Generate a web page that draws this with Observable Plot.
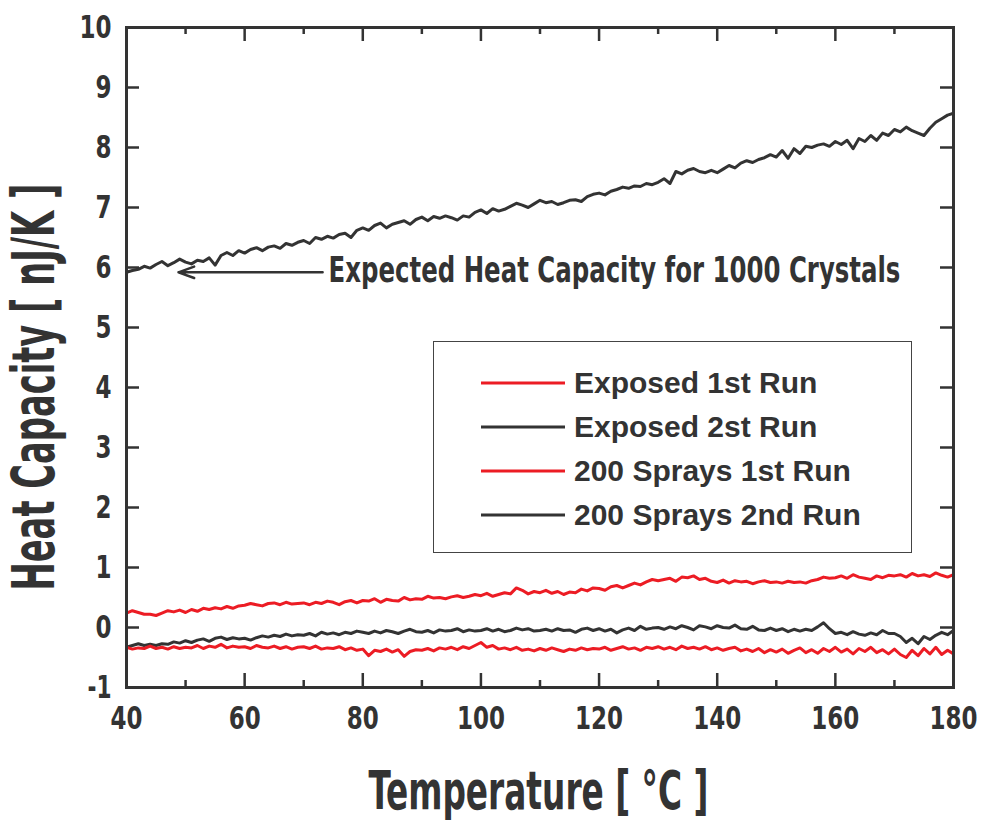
<!DOCTYPE html>
<html><head><meta charset="utf-8">
<script src="https://cdn.jsdelivr.net/npm/d3@7"></script>
<script src="https://cdn.jsdelivr.net/npm/@observablehq/plot@0.6"></script>
<style>
body{margin:0;background:#fff;}
#wrap{position:relative;width:985px;height:821px;overflow:hidden;}
#legend{position:absolute;left:433px;top:341px;width:479px;height:212px;border:1.5px solid #444;box-sizing:border-box;background:#fff;}
.lrow{position:absolute;left:0;height:44px;display:flex;align-items:center;font-family:"Liberation Sans",Arial,sans-serif;font-weight:bold;font-size:30px;color:#333;white-space:nowrap;}
.lrow svg{margin-left:47px;margin-right:9px;}
</style>
</head><body><div id="wrap"></div>
<script>
// ---------- data ----------
const tempStart = 40, tempEnd = 180; // °C, one reading per degree
const expected1000 = [
5.92,5.95,5.97,6.02,5.99,6.05,6.10,6.03,6.08,6.14,
6.09,6.06,6.12,6.10,6.16,6.04,6.20,6.25,6.20,6.28,
6.24,6.30,6.33,6.28,6.34,6.36,6.32,6.40,6.37,6.42,
6.45,6.40,6.50,6.47,6.52,6.49,6.55,6.57,6.50,6.62,
6.66,6.62,6.70,6.74,6.66,6.72,6.75,6.78,6.72,6.80,
6.84,6.78,6.85,6.82,6.86,6.83,6.79,6.86,6.84,6.92,
6.96,6.90,6.98,6.94,6.97,7.02,7.07,7.04,7.00,7.06,
7.12,7.08,7.10,7.05,7.08,7.12,7.13,7.10,7.18,7.22,
7.24,7.21,7.27,7.30,7.34,7.32,7.36,7.35,7.40,7.38,
7.42,7.48,7.40,7.60,7.56,7.62,7.65,7.60,7.58,7.62,
7.58,7.64,7.70,7.66,7.74,7.78,7.75,7.80,7.83,7.88,
7.84,7.95,7.82,7.98,7.90,8.02,8.00,8.04,8.06,8.02,
8.10,8.05,8.12,7.98,8.15,8.10,8.20,8.12,8.24,8.20,
8.30,8.26,8.34,8.28,8.24,8.20,8.32,8.42,8.48,8.54,
8.57];
const exposed1st = [
0.24,0.28,0.25,0.22,0.22,0.20,0.24,0.28,0.26,0.29,
0.25,0.30,0.27,0.32,0.30,0.33,0.31,0.35,0.32,0.36,
0.37,0.40,0.38,0.36,0.40,0.41,0.38,0.42,0.39,0.40,
0.41,0.38,0.42,0.40,0.44,0.42,0.38,0.43,0.45,0.41,
0.45,0.44,0.48,0.42,0.47,0.45,0.44,0.50,0.46,0.48,
0.47,0.52,0.49,0.50,0.48,0.51,0.53,0.50,0.52,0.55,
0.53,0.57,0.52,0.55,0.58,0.56,0.66,0.62,0.56,0.60,
0.58,0.62,0.57,0.60,0.55,0.59,0.58,0.64,0.61,0.66,
0.65,0.62,0.68,0.70,0.66,0.70,0.74,0.71,0.76,0.80,
0.78,0.80,0.82,0.77,0.84,0.83,0.86,0.80,0.82,0.77,
0.75,0.79,0.74,0.78,0.76,0.77,0.73,0.76,0.78,0.75,
0.76,0.74,0.77,0.75,0.76,0.74,0.78,0.80,0.84,0.82,
0.83,0.86,0.82,0.88,0.84,0.82,0.80,0.86,0.83,0.87,
0.86,0.88,0.84,0.90,0.86,0.88,0.85,0.91,0.87,0.84,
0.88];
const exposed2nd = [
-0.33,-0.30,-0.27,-0.30,-0.28,-0.30,-0.27,-0.28,-0.24,-0.26,
-0.22,-0.25,-0.21,-0.19,-0.23,-0.18,-0.16,-0.20,-0.17,-0.19,
-0.18,-0.21,-0.17,-0.14,-0.16,-0.13,-0.15,-0.11,-0.14,-0.12,
-0.13,-0.10,-0.14,-0.08,-0.11,-0.09,-0.12,-0.08,-0.10,-0.06,
-0.08,-0.10,-0.06,-0.09,-0.05,-0.07,-0.10,-0.06,-0.03,-0.07,
-0.08,-0.05,-0.09,-0.04,-0.06,-0.05,-0.02,-0.07,-0.04,-0.06,
-0.05,-0.02,-0.06,-0.03,-0.07,-0.05,-0.01,-0.04,-0.02,-0.06,
-0.05,-0.03,-0.06,-0.02,-0.05,-0.04,-0.08,-0.03,-0.01,-0.05,
-0.02,-0.06,-0.03,-0.09,-0.04,-0.01,-0.05,0.02,-0.03,-0.01,
0.00,-0.03,0.01,-0.02,0.03,0.00,-0.04,0.03,0.01,-0.02,
0.03,0.00,-0.01,0.04,-0.02,-0.03,0.02,-0.04,-0.05,-0.01,
-0.05,-0.02,-0.07,-0.03,-0.06,-0.03,-0.05,0.01,0.08,-0.02,
-0.10,-0.08,-0.12,-0.07,-0.11,-0.13,-0.09,-0.12,-0.05,-0.10,
-0.10,-0.15,-0.25,-0.18,-0.27,-0.15,-0.20,-0.13,-0.08,-0.12,
-0.05];
const sprays1st = [
-0.33,-0.36,-0.34,-0.35,-0.31,-0.35,-0.33,-0.36,-0.32,-0.35,
-0.33,-0.34,-0.30,-0.35,-0.31,-0.33,-0.28,-0.34,-0.31,-0.33,
-0.32,-0.35,-0.30,-0.33,-0.34,-0.31,-0.35,-0.32,-0.36,-0.33,
-0.32,-0.35,-0.31,-0.36,-0.34,-0.35,-0.32,-0.37,-0.34,-0.38,
-0.36,-0.47,-0.38,-0.40,-0.36,-0.41,-0.37,-0.48,-0.40,-0.37,
-0.38,-0.35,-0.39,-0.34,-0.36,-0.33,-0.37,-0.32,-0.35,-0.30,
-0.25,-0.33,-0.30,-0.36,-0.34,-0.37,-0.33,-0.38,-0.36,-0.39,
-0.35,-0.38,-0.34,-0.37,-0.40,-0.36,-0.38,-0.34,-0.37,-0.35,
-0.36,-0.33,-0.38,-0.35,-0.32,-0.36,-0.34,-0.38,-0.33,-0.35,
-0.32,-0.36,-0.33,-0.37,-0.31,-0.35,-0.33,-0.36,-0.32,-0.37,
-0.34,-0.38,-0.35,-0.33,-0.39,-0.36,-0.40,-0.35,-0.42,-0.37,
-0.41,-0.36,-0.43,-0.38,-0.34,-0.42,-0.37,-0.43,-0.35,-0.40,
-0.33,-0.41,-0.36,-0.44,-0.35,-0.40,-0.33,-0.42,-0.37,-0.44,
-0.36,-0.45,-0.50,-0.38,-0.47,-0.35,-0.44,-0.33,-0.45,-0.38,
-0.44];
const legendNames = ["Exposed 1st Run", "Exposed 2st Run", "200 Sprays 1st Run", "200 Sprays 2nd Run"];
const legendColors = ["#ec1c24", "#333333", "#ec1c24", "#333333"];
const xMajorTicks = [40, 60, 80, 100, 120, 140, 160, 180];
const xMinorTicks = [50, 70, 90, 110, 130, 150, 170];
const yTicks = [-1, 0, 1, 2, 3, 4, 5, 6, 7, 8, 9, 10];
const xTitle = "Temperature [ °C ]";
const yTitle = "Heat Capacity [ nJ/K ]";
const annotationText = "Expected Heat Capacity for 1000 Crystals";
const annotationArrow = {x1: 73.2, x2: 48.8, y: 5.92};
const annotationLabel = {x: 74.2, y: 5.95};

// ---------- build ----------
const temps = d3.range(tempStart, tempEnd + 1);
const lines = [
  {values: expected1000, color: "#333333"},
  {values: exposed1st, color: "#ec1c24"},
  {values: exposed2nd, color: "#333333"},
  {values: sprays1st, color: "#ec1c24"}
];
const W = 985, H = 821, mL = 126, mR = 32, mT = 27, mB = 134;
const pW = W - mL - mR, pH = H - mT - mB;
const FONT = "'Liberation Sans Narrow','DejaVu Sans Condensed',sans-serif";
const INK = "#333";

const plot = Plot.plot({
  width: W, height: H, marginLeft: mL, marginRight: mR, marginTop: mT, marginBottom: mB,
  x: {domain: [tempStart, tempEnd]},
  y: {domain: [-1, 10]},
  style: {fontFamily: FONT, color: INK, background: "white", overflow: "visible"},
  marks: [
    ...lines.map(s => Plot.line(s.values, {x: (d, i) => temps[i], y: d => d, stroke: s.color, strokeWidth: 3, strokeLinejoin: "round"})),
    Plot.tickX(xMajorTicks, {x: d => d, insetTop: pH - 14, stroke: INK, strokeWidth: 2.5}),
    Plot.tickX(xMajorTicks, {x: d => d, insetBottom: pH - 14, stroke: INK, strokeWidth: 2.5}),
    Plot.tickX(xMinorTicks, {x: d => d, insetTop: pH - 7, stroke: INK, strokeWidth: 2.5}),
    Plot.tickX(xMinorTicks, {x: d => d, insetBottom: pH - 7, stroke: INK, strokeWidth: 2.5}),
    Plot.tickY(yTicks, {y: d => d, insetRight: pW - 13, stroke: INK, strokeWidth: 2.5}),
    Plot.tickY(yTicks, {y: d => d, insetLeft: pW - 13, stroke: INK, strokeWidth: 2.5}),
    Plot.frame({stroke: INK, strokeWidth: 3}),
    Plot.axisX(xMajorTicks, {tickSize: 0, tickPadding: 19, fontSize: 32, fontWeight: "bold", label: null, tickFormat: d => String(d), fill: INK}),
    Plot.axisY(yTicks, {tickSize: 0, tickPadding: 15, fontSize: 32, fontWeight: "bold", label: null, tickFormat: d => String(d), fill: INK}),
    Plot.arrow([annotationArrow], {x1: "x1", y1: "y", x2: "x2", y2: "y", stroke: INK, strokeWidth: 2.5, headLength: 10, headAngle: 40}),
    Plot.text([annotationText], {x: () => annotationLabel.x, y: () => annotationLabel.y, text: d => d, textAnchor: "start", lineAnchor: "middle", fontSize: 36, fontWeight: "bold", fill: INK}),
    Plot.text([xTitle], {frameAnchor: "bottom-left", text: d => d, dx: 242, dy: 121, textAnchor: "start", lineAnchor: "bottom", fontSize: 54, fontWeight: "bold", fill: INK}),
    Plot.text([yTitle], {frameAnchor: "bottom-left", text: d => d, dx: -91, dy: -97, rotate: -90, textAnchor: "start", lineAnchor: "middle", fontSize: 58, fontWeight: "bold", fill: INK})
  ]
});

const wrap = document.getElementById("wrap");
wrap.appendChild(plot);

// condense texts to the reference widths: shrink the font to the target width, then stretch back vertically
const fitWidths = new Map([[annotationText, 572], [xTitle, 340], [yTitle, 407]]);
const tickLabels = new Set([...xMajorTicks, ...yTicks].map(String));
plot.querySelectorAll("text").forEach(t => {
  const s = t.textContent;
  let w = fitWidths.get(s);
  if (!w && tickLabels.has(s)) w = [...s].reduce((a, c) => a + (c === "-" ? 8 : 16), 0);
  if (!w) return;
  const fs = parseFloat(getComputedStyle(t).fontSize);
  const w0 = t.getComputedTextLength();
  const k = w / w0;
  if (k >= 1) return;
  t.setAttribute("font-size", fs * k);
  const tr = t.getAttribute("transform") || "";
  t.setAttribute("transform", `${tr} scale(1, ${1 / k})`);
});

// legend box inside the plot
const legend = document.createElement("div");
legend.id = "legend";
legendNames.forEach((name, i) => {
  const row = document.createElement("div");
  row.className = "lrow";
  row.style.top = (19 + i * 44) + "px";
  row.innerHTML = `<svg width="84" height="6"><line x1="0" y1="3" x2="84" y2="3" stroke="${legendColors[i]}" stroke-width="3"/></svg><span>${name}</span>`;
  legend.appendChild(row);
});
wrap.appendChild(legend);
</script>
</body></html>
